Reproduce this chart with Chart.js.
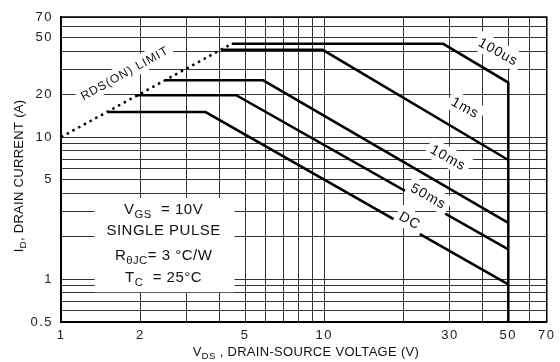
<!DOCTYPE html>
<html lang="en">
<head>
    <meta charset="UTF-8">
    <title>Safe Operating Area</title>
    <style>
        body {
            margin: 0;
            background: #fff;
        }

        canvas {
            display: block;
        }
    </style>
</head>
<body>
    <canvas id="soa" width="560" height="362"></canvas>

    <script src="https://cdn.jsdelivr.net/npm/chart.js"></script>
    <script>
        // grid and labelled ticks (log-log)
        const xGrid = [1, 2, 3, 4, 5, 6, 7, 8, 9, 10, 20, 30, 40, 50, 60, 70];
        const yGrid = [0.5, 0.6, 0.7, 0.8, 0.9, 1, 2, 3, 4, 5, 6, 7, 8, 9, 10, 20, 30, 40, 50, 60, 70];
        const xLabels = [1, 2, 5, 10, 30, 50, 70];
        const yLabels = [0.5, 1, 5, 10, 20, 50, 70];

        // curves [VDS, ID]
        const rdsLimit = [[1, 10], [4.45, 45.3]];
        const pulse100us = [[4.45, 45.3], [28.3, 45.3], [50, 24.2], [50, 0.5]];
        const pulse1ms = [[4.07, 41.1], [9.86, 41.1], [50, 6.9]];
        const pulse10ms = [[2.48, 25.1], [5.86, 25.1], [50, 2.49]];
        const pulse50ms = [[1.94, 19.7], [4.63, 19.7], [50, 1.62]];
        const pulseDC = [[1.5, 15], [3.54, 15], [50, 0.92]];

        // curve names and where they sit (data coords)
        const curveNames = ['100us', '1ms', '10ms', '50ms', 'DC'];
        const curveNameAt = [[45.9, 40], [34.4, 16.2], [29.6, 7.2], [24.9, 3.86], [21.2, 2.6]];

        const pts = arr => arr.map(p => ({ x: p[0], y: p[1] }));

        function solid(data) {
            return {
                data: pts(data),
                borderColor: '#000',
                borderWidth: 2.5,
                pointRadius: 0,
                fill: false,
                tension: 0
            };
        }

        // text with subscript parts: [['V'], ['GS', true], [' = 10V']]
        function drawRich(ctx, parts, x, y, size) {
            let total = 0;
            parts.forEach(p => {
                ctx.font = (p[1] ? size * 0.75 : size) + 'px Arial, "Liberation Sans", sans-serif';
                total += ctx.measureText(p[0]).width;
            });
            let cx = x - total / 2;
            parts.forEach(p => {
                ctx.font = (p[1] ? size * 0.75 : size) + 'px Arial, "Liberation Sans", sans-serif';
                ctx.textAlign = 'left';
                ctx.textBaseline = 'middle';
                ctx.fillText(p[0], cx, p[1] ? y + size * 0.35 : y);
                cx += ctx.measureText(p[0]).width;
            });
        }

        function boxedText(ctx, text, x, y, angle, size) {
            ctx.save();
            ctx.translate(x, y);
            ctx.rotate(angle * Math.PI / 180);
            ctx.font = size + 'px Arial, "Liberation Sans", sans-serif';
            ctx.letterSpacing = '1px';
            const w = ctx.measureText(text).width;
            ctx.fillStyle = '#fff';
            ctx.fillRect(-w / 2 - 4, -size / 2 - 3, w + 8, size + 6);
            ctx.fillStyle = '#111';
            ctx.textAlign = 'center';
            ctx.textBaseline = 'middle';
            ctx.fillText(text, 0, 1);
            ctx.restore();
        }

        const overlay = {
            id: 'overlay',
            beforeDraw(chart) {
                chart.ctx.letterSpacing = '1.5px';
            },
            afterDatasetsDraw(chart) {
                const ctx = chart.ctx;
                const xs = chart.scales.x, ys = chart.scales.y;

                boxedText(ctx, 'RDS(ON) LIMIT', xs.getPixelForValue(1.74), ys.getPixelForValue(28.3), -29, 12);
                curveNames.forEach((n, i) => {
                    boxedText(ctx, n, xs.getPixelForValue(curveNameAt[i][0]), ys.getPixelForValue(curveNameAt[i][1]), 29, 14);
                });

                // condition box
                const l = xs.getPixelForValue(1.343), r = xs.getPixelForValue(4.56);
                const t = ys.getPixelForValue(3.72), b = ys.getPixelForValue(0.81);
                ctx.save();
                ctx.fillStyle = '#fff';
                ctx.fillRect(l, t, r - l, b - t);
                ctx.fillStyle = '#111';
                ctx.letterSpacing = '0.5px';
                const cx = (l + r) / 2 - 1;
                drawRich(ctx, [['V'], ['GS', true], ['  = 10V']], cx, t + 12, 15);
                drawRich(ctx, [['SINGLE PULSE']], cx, t + 33, 15);
                drawRich(ctx, [['R'], ['θJC', true], ['= 3 °C/W']], cx, t + 58, 15);
                drawRich(ctx, [['T'], ['C', true], ['  = 25°C']], cx, t + 80, 15);
                ctx.restore();
            },
            afterDraw(chart) {
                const ctx = chart.ctx;
                const a = chart.chartArea;
                ctx.save();
                ctx.strokeStyle = '#000';
                ctx.lineWidth = 1.5;
                ctx.strokeRect(a.left, a.top, a.right - a.left, a.bottom - a.top);

                ctx.fillStyle = '#111';
                ctx.letterSpacing = '0.3px';
                drawRich(ctx, [['V'], ['DS', true], [' , DRAIN-SOURCE VOLTAGE (V)']], (a.left + a.right) / 2 + 2, 352, 13);

                ctx.translate(19, 176);
                ctx.rotate(-Math.PI / 2);
                drawRich(ctx, [['I'], ['D', true], [', DRAIN CURRENT (A)']], 0, 0, 13);
                ctx.restore();
            }
        };

        const ctx = document.getElementById('soa').getContext('2d');
        new Chart(ctx, {
            type: 'line',
            data: {
                datasets: [
                    {
                        data: pts(rdsLimit),
                        borderColor: '#000',
                        borderWidth: 2.5,
                        borderDash: [2.5, 4],
                        pointRadius: 0,
                        fill: false
                    },
                    solid(pulse100us),
                    solid(pulse1ms),
                    solid(pulse10ms),
                    solid(pulse50ms),
                    solid(pulseDC)
                ]
            },
            options: {
                responsive: false,
                animation: false,
                layout: { padding: { top: 17, right: 9, left: 0, bottom: 0 } },
                plugins: {
                    legend: { display: false },
                    tooltip: { enabled: false }
                },
                scales: {
                    x: {
                        type: 'logarithmic',
                        min: 1,
                        max: 70,
                        afterBuildTicks: s => { s.ticks = xGrid.map(v => ({ value: v })); },
                        afterFit: s => { s.height = 40; },
                        ticks: {
                            autoSkip: false,
                            maxRotation: 0,
                            padding: 6,
                            color: '#222',
                            font: { family: 'Arial, "Liberation Sans", sans-serif', size: 13 },
                            callback: v => xLabels.includes(v) ? String(v) : ''
                        },
                        grid: { color: '#333', lineWidth: 1, drawTicks: false },
                        border: { color: '#000', width: 2 }
                    },
                    y: {
                        type: 'logarithmic',
                        min: 0.5,
                        max: 70,
                        afterBuildTicks: s => { s.ticks = yGrid.map(v => ({ value: v })); },
                        afterFit: s => { s.width = 61; },
                        ticks: {
                            autoSkip: false,
                            padding: 8,
                            color: '#222',
                            font: { family: 'Arial, "Liberation Sans", sans-serif', size: 13 },
                            callback: v => yLabels.includes(v) ? String(v) : ''
                        },
                        grid: { color: '#333', lineWidth: 1, drawTicks: false },
                        border: { color: '#000', width: 2 }
                    }
                }
            },
            plugins: [overlay]
        });
    </script>
</body>
</html>
